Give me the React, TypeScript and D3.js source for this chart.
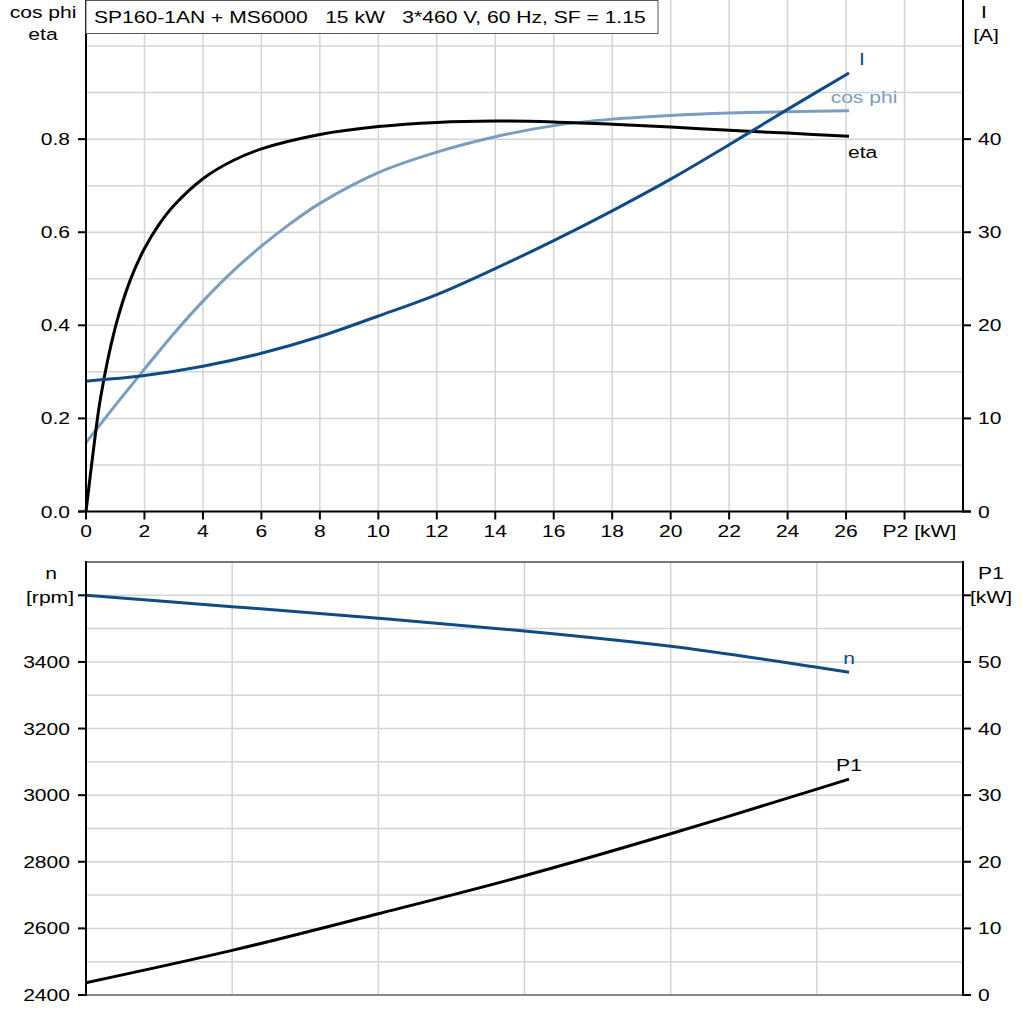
import React from "react";
import * as d3 from "d3";

// ---- Data ----
const P2_EFF = [0, 0.25, 0.5, 1, 1.5, 2, 2.5, 3, 4, 5, 6, 8, 10, 12, 14, 16, 18, 20, 22, 24, 26.1];
const ETA = [0, 0.13, 0.245, 0.395, 0.495, 0.565, 0.617, 0.657, 0.715, 0.753, 0.779, 0.81, 0.827, 0.836, 0.839, 0.837, 0.832, 0.826, 0.819, 0.813, 0.806];

const P2_COS = [0, 1, 2, 3, 4, 5, 6, 7, 8, 10, 12, 14, 16, 18, 20, 22, 24, 26.1];
const COS_PHI = [0.148, 0.228, 0.306, 0.382, 0.452, 0.515, 0.57, 0.619, 0.662, 0.728, 0.772, 0.805, 0.829, 0.843, 0.851, 0.856, 0.859, 0.861];

const P2_I = [0, 2, 4, 6, 8, 10, 12, 14, 16, 18, 20, 22, 24, 26.1];
const CURRENT = [14.0, 14.6, 15.6, 17.0, 18.8, 21.0, 23.3, 26.1, 29.1, 32.3, 35.7, 39.4, 43.2, 47.1];

const P2_LOW = [0, 5, 10, 15, 20, 25, 26.1];
const SPEED = [3600, 3566, 3531, 3493, 3447, 3384, 3369];
const P1 = [1.85, 6.7, 12.2, 17.9, 24.2, 30.9, 32.4];

const X_TICKS = [0, 2, 4, 6, 8, 10, 12, 14, 16, 18, 20, 22, 24, 26];
const LEFT_TOP_TICKS = [0, 0.2, 0.4, 0.6, 0.8];
const RIGHT_TOP_TICKS = [0, 10, 20, 30, 40];
const N_TICKS = [2400, 2600, 2800, 3000, 3200, 3400, 3600];
const P1_TICKS = [0, 10, 20, 30, 40, 50, 60];

const TITLE = "SP160-1AN + MS6000   15 kW   3*460 V, 60 Hz, SF = 1.15";

const DARK_BLUE = "#0f4c85";
const LIGHT_BLUE = "#7a9ec1";
const GRID = "#d2d4d6";
const FONT = "'Liberation Sans', Arial, sans-serif";
const SX = 1.24;

function T(props: {
  x: number;
  y: number;
  anchor?: "start" | "middle" | "end";
  fill?: string;
  children: React.ReactNode;
}) {
  const { x, y, anchor = "start", fill = "#000", children } = props;
  return (
    <text
      transform={`translate(${x},${y}) scale(${SX},1)`}
      textAnchor={anchor}
      fill={fill}
      style={{ whiteSpace: "pre" }}
      xmlSpace="preserve"
    >
      {children}
    </text>
  );
}

export default function App() {
  const L = 86, R = 963;
  const x = d3.scaleLinear().domain([0, 30]).range([L, R]);
  const yTop = d3.scaleLinear().domain([0, 1.1]).range([511.5, -0.5]);
  const yI = d3.scaleLinear().domain([0, 55]).range([511.5, -0.5]);
  const yN = d3.scaleLinear().domain([2400, 3700]).range([995, 562]);
  const yP1 = d3.scaleLinear().domain([0, 65]).range([995, 562]);

  const mk = (xs: number[], ys: number[], yS: d3.ScaleLinear<number, number>) =>
    d3
      .line<number>()
      .x((_, i) => x(xs[i]))
      .y((d) => yS(d))
      .curve(d3.curveCatmullRom.alpha(0.5))(ys) || "";

  const topGridX = d3.range(2, 30, 2);
  const topGridY = d3.range(1, 11).map((v) => v / 10);
  const botGridX = d3.range(5, 30, 5);
  const botGridY = d3.range(2500, 3701, 100);

  const last = (a: number[]) => a[a.length - 1];

  return (
    <svg
      width={1024}
      height={1024}
      style={{ position: "absolute", left: 0, top: 0, background: "#fff" }}
      fontFamily={FONT}
      fontSize={17}
    >
      <rect x={0} y={0} width={1024} height={1024} fill="#fff" />
      {/* ---------- top chart ---------- */}
      <g>
        {topGridX.map((v) => (
          <line key={"tgx" + v} x1={x(v)} x2={x(v)} y1={yTop(0)} y2={0} stroke={GRID} strokeWidth={1.5} />
        ))}
        {topGridY.map((v) => (
          <line key={"tgy" + v} x1={L} x2={R} y1={yTop(v)} y2={yTop(v)} stroke={GRID} strokeWidth={1.5} />
        ))}
        <path d={mk(P2_COS, COS_PHI, yTop)} fill="none" stroke={LIGHT_BLUE} strokeWidth={3} />
        <path d={mk(P2_EFF, ETA, yTop)} fill="none" stroke="#000" strokeWidth={3} />
        <path d={mk(P2_I, CURRENT, yI)} fill="none" stroke={DARK_BLUE} strokeWidth={3} />

        {/* curve labels */}
        <T x={x(last(P2_I)) + 13} y={yI(last(CURRENT)) - 8} fill={DARK_BLUE} anchor="middle">I</T>
        <T x={x(last(P2_COS)) + 15} y={yTop(last(COS_PHI)) - 8} fill={LIGHT_BLUE} anchor="middle">cos phi</T>
        <T x={x(last(P2_EFF)) - 1} y={yTop(last(ETA)) + 22} anchor="start">eta</T>

        {/* axes */}
        <line x1={L} x2={L} y1={0} y2={yTop(0) + 1} stroke="#000" strokeWidth={2} />
        <line x1={R} x2={R} y1={0} y2={yTop(0) + 1} stroke="#000" strokeWidth={2} />
        <line x1={L - 8} x2={R + 8} y1={yTop(0)} y2={yTop(0)} stroke="#000" strokeWidth={2} />
        {[...X_TICKS, 28].map((v) => (
          <line key={"xt" + v} x1={x(v)} x2={x(v)} y1={yTop(0)} y2={yTop(0) + 8} stroke="#000" strokeWidth={2} />
        ))}
        {X_TICKS.map((v) => (
          <T key={"xl" + v} x={x(v)} y={537} anchor="middle">{v}</T>
        ))}
        <T x={x(28) - 22} y={537}>P2 [kW]</T>

        {LEFT_TOP_TICKS.map((v) => (
          <g key={"lt" + v}>
            <line x1={L - 8} x2={L} y1={yTop(v)} y2={yTop(v)} stroke="#000" strokeWidth={2} />
            <T x={L - 16} y={yTop(v) + 6} anchor="end">{v.toFixed(1)}</T>
          </g>
        ))}
        {RIGHT_TOP_TICKS.map((v) => (
          <g key={"rt" + v}>
            <line x1={R} x2={R + 8} y1={yI(v)} y2={yI(v)} stroke="#000" strokeWidth={2} />
            <T x={R + 15} y={yI(v) + 6}>{v}</T>
          </g>
        ))}

        <T x={43} y={18} anchor="middle">cos phi</T>
        <T x={43} y={40} anchor="middle">eta</T>
        <T x={984} y={18} anchor="middle">I</T>
        <T x={986} y={41} anchor="middle">[A]</T>

        {/* title box */}
        <rect x={L} y={0.5} width={572} height={33} fill="#fff" stroke="#555" strokeWidth={1} />
        <T x={94} y={23}>{TITLE}</T>
      </g>

      {/* ---------- bottom chart ---------- */}
      <g>
        {botGridX.map((v) => (
          <line key={"bgx" + v} x1={x(v)} x2={x(v)} y1={yN(2400)} y2={yN(3700)} stroke={GRID} strokeWidth={1.5} />
        ))}
        {botGridY.slice(0, -1).map((v) => (
          <line key={"bgy" + v} x1={L} x2={R} y1={yN(v)} y2={yN(v)} stroke={GRID} strokeWidth={1.5} />
        ))}
        <line x1={L} x2={R} y1={yN(3700)} y2={yN(3700)} stroke="#777" strokeWidth={2} />
        <line x1={L} x2={R} y1={yN(2400)} y2={yN(2400)} stroke="#888" strokeWidth={2} />

        <path d={mk(P2_LOW, SPEED, yN)} fill="none" stroke={DARK_BLUE} strokeWidth={3} />
        <path d={mk(P2_LOW, P1, yP1)} fill="none" stroke="#000" strokeWidth={3} />

        <T x={x(last(P2_LOW))} y={yN(last(SPEED)) - 8} fill={DARK_BLUE} anchor="middle">n</T>
        <T x={x(last(P2_LOW))} y={yP1(last(P1)) - 8} anchor="middle">P1</T>

        <line x1={L} x2={L} y1={yN(3700) - 1} y2={yN(2400) + 1} stroke="#000" strokeWidth={2} />
        <line x1={R} x2={R} y1={yN(3700) - 1} y2={yN(2400) + 1} stroke="#000" strokeWidth={2} />

        {N_TICKS.map((v) => (
          <g key={"nt" + v}>
            <line x1={L - 8} x2={L} y1={yN(v)} y2={yN(v)} stroke="#000" strokeWidth={2} />
            {v !== 3600 && <T x={L - 16} y={yN(v) + 6} anchor="end">{v}</T>}
          </g>
        ))}
        {P1_TICKS.map((v) => (
          <g key={"pt" + v}>
            <line x1={R} x2={R + 8} y1={yP1(v)} y2={yP1(v)} stroke="#000" strokeWidth={2} />
            {v !== 60 && <T x={R + 15} y={yP1(v) + 6}>{v}</T>}
          </g>
        ))}

        <T x={51} y={579} anchor="middle">n</T>
        <T x={50} y={603} anchor="middle">[rpm]</T>
        <T x={991} y={579} anchor="middle">P1</T>
        <T x={991} y={603} anchor="middle">[kW]</T>
      </g>
    </svg>
  );
}
